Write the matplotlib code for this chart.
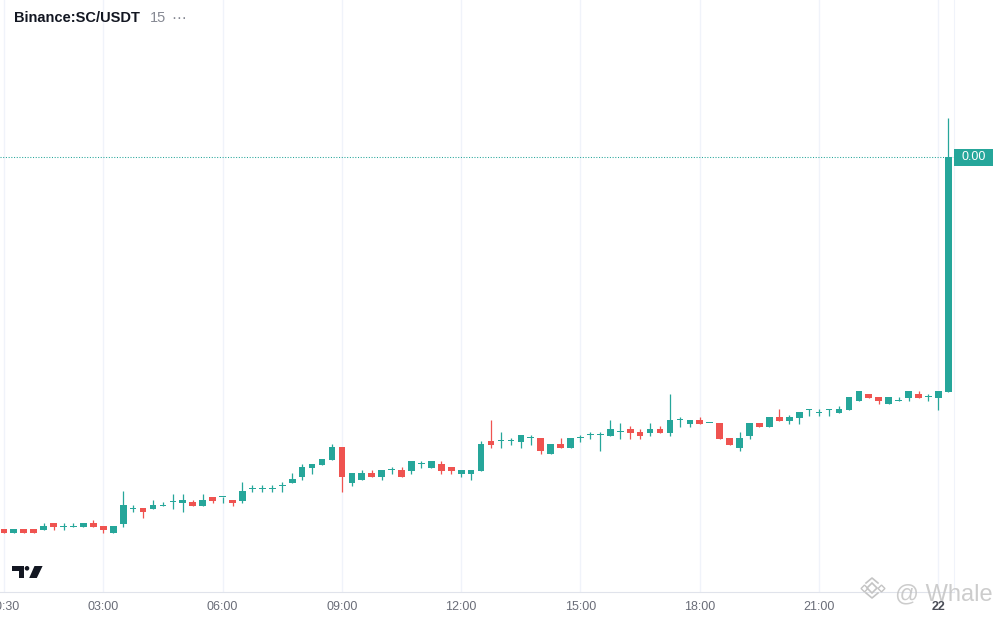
"""
Binance:SC/USDT 15-minute candles, TradingView style.
Output: out.png
"""

import matplotlib
matplotlib.use("Agg")
import matplotlib.pyplot as plt
from matplotlib.patches import Polygon, Rectangle, Circle
from matplotlib.transforms import blended_transform_factory

# ── Config ──────────────────────────────────────────────
STYLE = {
    "bg": "#ffffff",
    "text": "#131722",
    "muted": "#787b86",
    "axis": "#6a6d78",
    "grid": "#f0f3fa",
    "border": "#e0e3eb",
    "green": "#26a69a",
    "red": "#ef5350",
    "water": "#c4c4c4",
}

plt.rcParams.update({
    "figure.facecolor": STYLE["bg"],
    "axes.facecolor": STYLE["bg"],
    "font.size": 9,
})
plt.rcParams["font.family"] = ["Liberation Sans", "DejaVu Sans"]

# ── Data (price in units of 0.00001 USDT, one candle per 15 min) ──
PRICE_UNIT = 1e-5

OPEN = [71, 67.3, 71, 71, 70.3, 77, 73.3, 73.3, 73.3, 77,
        74, 67.3, 76.3, 91.3, 92, 91.3, 94.3, 97.7, 97.3, 98,
        94.3, 103, 102.7, 100, 99.3, 111.3, 111.3, 111.3, 114.3, 117.3,
        123.3, 132.3, 135.3, 140.3, 153, 117.3, 120.3, 127, 123.3, 129.7,
        130, 129.3, 135.7, 132.3, 136, 133, 126.3, 126.3, 129.3, 159,
        158.7, 158.7, 158.3, 161.7, 162, 146.3, 156, 152.3, 161.7, 164.7,
        164.7, 164.3, 167.7, 171, 168, 167.3, 171, 167.3, 179.7, 176.3,
        180, 176.7, 177, 162, 152.3, 164.3, 177, 173.3, 183, 179.3,
        182.3, 190.3, 187.3, 190.3, 187.3, 190.3, 199.3, 206, 203, 196.3,
        199.3, 202.3, 206, 202.7, 202.3, 208.3]

HIGH = [71, 71, 71, 71, 77, 77, 77, 77, 77, 80,
        74, 74, 109, 95, 92, 100, 98, 106, 106, 100,
        106, 103, 103.3, 100, 118, 114.7, 114.7, 114.7, 118, 127,
        136, 136, 141, 156, 153, 127, 130, 130, 130, 133,
        133, 139, 139, 139, 139, 133, 130, 130, 159, 180,
        168, 162, 165, 165, 162, 156, 162, 162, 165, 168,
        168, 180, 177, 174, 171, 177, 174, 206, 183, 180,
        183, 177.3, 177, 162, 168, 177, 177, 183, 191, 185,
        188, 191, 191, 191, 194, 203, 209, 206, 203, 203,
        203, 209, 209, 206, 209, 482]

LOW = [67.3, 67.3, 67.3, 67.3, 70.3, 70.3, 70.3, 73.3, 73.3, 73.3,
       67.3, 67.3, 73.3, 88.3, 82.3, 91.3, 94.3, 91.3, 88.3, 94.3,
       94.3, 97.3, 97.3, 94.3, 97.3, 108.3, 108.3, 108.3, 108.3, 117.3,
       120.3, 126.3, 135.3, 140.3, 108.3, 114.3, 120.3, 123.3, 120.3, 126.3,
       123.3, 126.3, 132.3, 132.3, 126.3, 126.3, 123.3, 120.3, 129.3, 152.3,
       152.3, 155.3, 152.3, 155.3, 146.3, 146.3, 152.3, 152.3, 158.3, 161.3,
       149.3, 164.3, 161.3, 161.3, 161.3, 164.3, 167.3, 164.3, 173.3, 173.3,
       176.3, 176.7, 161.3, 155.3, 149.3, 161.3, 173.3, 173.3, 179.3, 176.3,
       176.3, 184.3, 184.3, 184.3, 187.3, 190.3, 199.3, 202.3, 196.3, 196.3,
       199.3, 199.3, 202.3, 199.3, 190.3, 208.3]

CLOSE = [67.3, 71, 67.3, 67.3, 74, 73.3, 74, 74, 77, 73.3,
         70.3, 74, 95, 92, 88.3, 95, 95, 98.3, 100, 94.3,
         100, 99.3, 103.3, 97.3, 109, 112, 112, 112, 115, 121,
         133, 136, 141, 153, 123.3, 127, 127, 123.3, 130, 130.3,
         123.3, 139, 136.3, 139, 129.3, 129.3, 130, 130, 156, 155.3,
         159.3, 159.3, 165, 162.3, 149.3, 156, 152.3, 162, 162.3, 165.3,
         165.3, 171, 168.3, 167.3, 164.3, 171, 167.3, 180, 180.3, 180,
         176.3, 177.3, 161.3, 155.3, 162, 177, 173.3, 183, 179.3, 183,
         188, 191, 188, 191, 191, 203, 209, 202.3, 199.3, 203,
         200, 209, 202.3, 203.3, 209, 442.7]

# candle index of each time label (first candle = 00:30)
TICK_IDX = [0, 10, 22, 34, 46, 58, 70, 82, 94]
TICK_LABELS = ["00:30", "03:00", "06:00", "09:00", "12:00",
               "15:00", "18:00", "21:00", "22"]

SYMBOL = "Binance:SC/USDT"
INTERVAL = "15"
WATERMARK = "@ Whale"


# ═══════════════════════════════════════════════════════
# CHART
# ═══════════════════════════════════════════════════════
def chart_candles():
    W, H = 1000, 620
    fig = plt.figure(figsize=(W / 100, H / 100), dpi=100)

    # plot pane: full width up to the price scale, axis strip at the bottom
    ax = fig.add_axes([0, 28 / H, 954 / W, 592 / H])
    n = len(CLOSE)
    xs = list(range(n))
    body_w = 0.67

    for i in xs:
        o, h, l, c = OPEN[i], HIGH[i], LOW[i], CLOSE[i]
        color = STYLE["green"] if c >= o else STYLE["red"]
        ax.vlines(i, l, h, color=color, linewidth=0.9, zorder=3)
        bh = max(abs(c - o), 1.0)
        ax.bar(i, bh, bottom=min(o, c), width=body_w, color=color,
               linewidth=0, zorder=4)

    # last price dotted line + label
    last = CLOSE[-1]
    ax.axhline(last, color=STYLE["green"], linewidth=0.75,
               linestyle=(0, (1, 1.6)), zorder=2)
    tr = blended_transform_factory(ax.transAxes, ax.transData)
    ax.add_patch(Rectangle((1.0, last - 8.5), 39 / 954, 17, transform=tr,
                           facecolor=STYLE["green"], edgecolor="none",
                           clip_on=False, zorder=6))
    ax.text(1.0 + 19.5 / 954, last, f"{last * PRICE_UNIT:.2f}", transform=tr,
            ha="center", va="center", color="white", fontsize=9,
            clip_on=False, zorder=7)

    ax.set_xlim(-0.39, 95.57)
    ax.set_ylim(8, 600)
    ax.set_yticks([])
    ax.set_xticks(TICK_IDX)
    ax.set_xticklabels(TICK_LABELS)
    ax.tick_params(axis="x", length=0, pad=6.5, labelsize=9,
                   labelcolor=STYLE["axis"])
    ax.get_xticklabels()[-1].set_fontweight("bold")
    ax.get_xticklabels()[-1].set_color("#4a4d57")
    ax.grid(axis="x", color=STYLE["grid"], linewidth=1.0, zorder=0)
    ax.set_axisbelow(True)
    for side in ["top", "left"]:
        ax.spines[side].set_visible(False)
    ax.spines["bottom"].set_color(STYLE["border"])
    ax.spines["right"].set_color(STYLE["grid"])

    # overlay in pixel coordinates for header, logo and watermark
    ov = fig.add_axes([0, 0, 1, 1], facecolor="none", zorder=5)
    ov.set_xlim(0, W)
    ov.set_ylim(H, 0)
    ov.axis("off")

    ov.text(14, 18.5, SYMBOL, fontsize=10.5, fontweight="bold",
            color=STYLE["text"], ha="left", va="center")
    ov.text(150, 18.5, INTERVAL, fontsize=10.5, color="#868993",
            ha="left", va="center")
    ov.text(171, 18.5, "\u22ef", fontsize=10.5, color="#868993",
            ha="left", va="center", family=["DejaVu Sans"])

    # TradingView logo
    dark = STYLE["text"]
    ov.add_patch(Polygon([(12.3, 566), (24.3, 566), (24.3, 578), (18.6, 578),
                          (18.6, 570.6), (12.3, 570.6)],
                         closed=True, facecolor=dark, edgecolor="none"))
    ov.add_patch(Circle((27, 568.3), 2.3, facecolor=dark, edgecolor="none"))
    ov.add_patch(Polygon([(34.5, 566), (42.6, 566), (36.8, 578), (29.2, 578)],
                         closed=True, facecolor=dark, edgecolor="none"))

    # watermark
    wc = STYLE["water"]
    ov.plot([872], [588], marker="D", markersize=5.5, markerfacecolor="none",
            markeredgecolor=wc, markeredgewidth=1.2)
    ov.plot([863.5, 880.5], [588, 588], linestyle="none", marker="D",
            markersize=3.5, markerfacecolor="none", markeredgecolor=wc,
            markeredgewidth=1.0)
    ov.plot([866, 872, 878], [583, 578, 583], color=wc, linewidth=1.2)
    ov.plot([866, 872, 878], [593, 598, 593], color=wc, linewidth=1.2)
    ov.text(895, 594, WATERMARK, fontsize=17, color=wc, alpha=0.85,
            ha="left", va="center")

    fig.savefig("out.png", dpi=100)
    plt.close(fig)


if __name__ == "__main__":
    chart_candles()
